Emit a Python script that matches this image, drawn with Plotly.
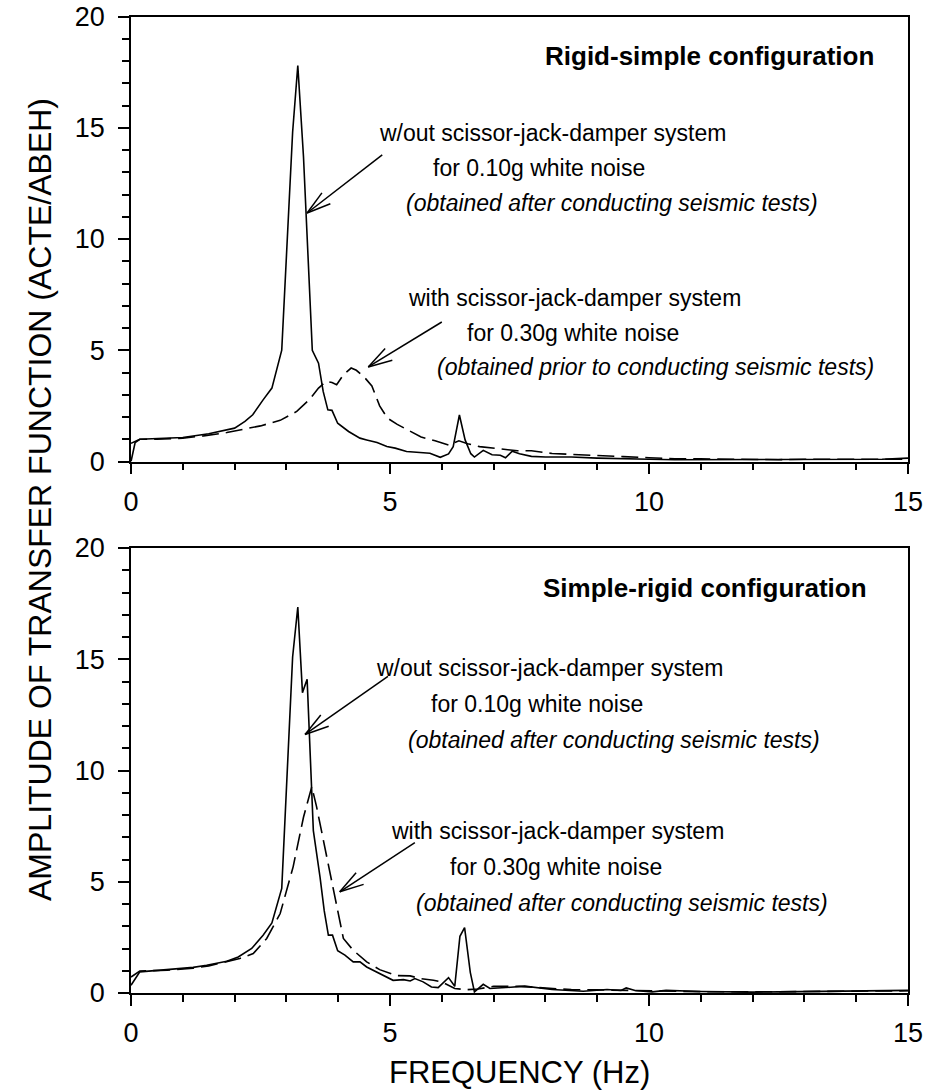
import math
import plotly.graph_objects as go

W, H = 927, 1092

# ---------------- data ----------------
# Rigid-simple configuration, without scissor-jack-damper (0.10g white noise)
rs_without_freq = [0.0, 0.08, 0.17, 0.5, 1.0, 1.5, 2.0, 2.2, 2.35, 2.55, 2.72, 2.91, 3.12, 3.22,
                   3.33, 3.5, 3.62, 3.71, 3.8, 3.88, 3.99, 4.2, 4.42, 4.55, 4.75, 4.94, 5.1, 5.32,
                   5.5, 5.77, 5.97, 6.13, 6.22, 6.34, 6.45, 6.56, 6.63, 6.8, 6.97, 7.13, 7.23,
                   7.36, 7.5, 7.73, 8.0, 8.5, 9.0, 9.5, 10.0, 10.5, 11.0, 11.5, 12.0, 12.5, 13.0,
                   13.5, 14.0, 14.5, 15.0]
rs_without_amp = [0.0, 0.85, 1.0, 1.02, 1.08, 1.25, 1.5, 1.8, 2.1, 2.77, 3.3, 5.0, 14.8, 17.8,
                  13.7, 5.0, 4.42, 3.15, 2.32, 2.3, 1.72, 1.35, 1.05, 0.97, 0.85, 0.67, 0.6, 0.45,
                  0.42, 0.37, 0.19, 0.34, 0.67, 2.09, 0.97, 0.35, 0.2, 0.5, 0.3, 0.28, 0.17,
                  0.46, 0.35, 0.23, 0.2, 0.2, 0.15, 0.14, 0.1, 0.08, 0.08, 0.1, 0.07, 0.08, 0.09,
                  0.08, 0.1, 0.1, 0.15]

# Rigid-simple configuration, with scissor-jack-damper (0.30g white noise)
rs_with_freq = [0.0, 0.17, 0.5, 1.0, 1.4, 1.85, 2.17, 2.5, 2.88, 3.2, 3.45, 3.62, 3.77, 3.88,
                3.97, 4.1, 4.25, 4.35, 4.5, 4.65, 4.8, 4.95, 5.14, 5.35, 5.6, 5.87, 6.13, 6.33,
                6.5, 6.73, 7.0, 7.46, 7.73, 8.13, 8.5, 9.06, 9.5, 10.0, 10.5, 11.0, 11.5, 12.0,
                12.5, 13.0, 13.5, 14.0, 14.5, 15.0]
rs_with_amp = [0.82, 1.0, 1.0, 1.05, 1.15, 1.3, 1.45, 1.6, 1.85, 2.25, 2.8, 3.3, 3.6, 3.55,
               3.45, 3.9, 4.2, 4.1, 3.8, 3.4, 2.5, 1.95, 1.67, 1.4, 1.1, 0.93, 0.74, 0.93,
               0.8, 0.67, 0.6, 0.48, 0.48, 0.36, 0.32, 0.28, 0.22, 0.17, 0.12, 0.12, 0.1, 0.1,
               0.08, 0.1, 0.1, 0.1, 0.08, 0.1]

# Simple-rigid configuration, without scissor-jack-damper (0.10g white noise)
sr_without_freq = [0.0, 0.17, 0.69, 1.2, 1.46, 1.85, 2.07, 2.33, 2.55, 2.72, 2.91, 3.12, 3.22,
                   3.31, 3.4, 3.52, 3.65, 3.73, 3.81, 3.89, 3.99, 4.13, 4.29, 4.42, 4.55, 4.87,
                   5.06, 5.26, 5.39, 5.48, 5.64, 5.8, 5.93, 6.13, 6.25, 6.35, 6.44, 6.55, 6.63,
                   6.8, 6.93, 7.33, 7.6, 8.13, 8.73, 9.19, 9.46, 9.56, 9.73, 10.06, 10.33, 11.0,
                   11.5, 12.0, 12.5, 13.0, 13.5, 14.0, 14.5, 15.0]
sr_without_amp = [0.35, 0.95, 1.05, 1.15, 1.25, 1.43, 1.62, 2.0, 2.6, 3.15, 4.7, 15.1, 17.35,
                  13.5, 14.1, 7.3, 5.2, 3.7, 2.6, 2.6, 1.9, 1.7, 1.4, 1.4, 1.17, 0.8,
                  0.57, 0.6, 0.54, 0.65, 0.5, 0.27, 0.24, 0.69, 0.3, 2.55, 2.94, 0.93, 0.05,
                  0.39, 0.2, 0.26, 0.31, 0.16, 0.08, 0.16, 0.11, 0.23, 0.11, 0.05, 0.12, 0.07,
                  0.05, 0.04, 0.05, 0.06, 0.07, 0.08, 0.08, 0.12]

# Simple-rigid configuration, with scissor-jack-damper (0.30g white noise)
sr_with_freq = [0.0, 0.17, 0.7, 1.2, 1.5, 1.85, 2.1, 2.36, 2.62, 2.88, 3.13, 3.33, 3.49, 3.58,
                3.78, 3.97, 4.1, 4.29, 4.55, 4.8, 5.13, 5.39, 5.58, 5.84, 6.0, 6.25, 6.48, 6.7,
                7.0, 7.5, 8.0, 8.5, 9.0, 9.5, 10.0, 10.5, 11.0, 12.0, 13.0, 14.0, 15.0]
sr_with_amp = [0.72, 0.99, 1.02, 1.12, 1.22, 1.4, 1.55, 1.77, 2.45, 3.57, 5.67, 7.9, 9.27, 8.4,
               6.1, 3.87, 2.45, 1.92, 1.4, 1.05, 0.78, 0.77, 0.65, 0.57, 0.5, 0.2, 0.15, 0.18,
               0.3, 0.3, 0.22, 0.15, 0.14, 0.12, 0.07, 0.08, 0.06, 0.05, 0.06, 0.07, 0.1]

panel_titles = ["Rigid-simple configuration", "Simple-rigid configuration"]
without_lines = ["w/out scissor-jack-damper system", "for 0.10g white noise"]
with_lines = ["with scissor-jack-damper system", "for 0.30g white noise"]
without_notes = ["(obtained after conducting seismic tests)", "(obtained after conducting seismic tests)"]
with_notes = ["(obtained prior to conducting seismic tests)", "(obtained after conducting seismic tests)"]

x_title = "FREQUENCY (Hz)"
y_title = "AMPLITUDE OF TRANSFER FUNCTION (ACTE/ABEH)"

X_RANGE = [0, 15]
Y_RANGE = [0, 20]

# ---------------- layout geometry ----------------
X_DOMAIN = [131 / W, 908 / W]
Y_DOMAINS = [[(H - 461.5) / H, (H - 16.5) / H],   # upper panel
             [(H - 993) / H, (H - 548) / H]]      # lower panel

PX_PER_X = (X_DOMAIN[1] - X_DOMAIN[0]) * W / (X_RANGE[1] - X_RANGE[0])
PX_PER_Y = [(d[1] - d[0]) * H / (Y_RANGE[1] - Y_RANGE[0]) for d in Y_DOMAINS]

SANS = "Arial, Liberation Sans, sans-serif"
TICK_FONT = dict(family=SANS, size=27, color="black")

solid = dict(color="black", width=1.6)
dashed = dict(color="black", width=1.6, dash="17px,7px")

fig = go.Figure()

series = [
    (rs_without_freq, rs_without_amp, solid, "x", "y"),
    (rs_with_freq, rs_with_amp, dashed, "x", "y"),
    (sr_without_freq, sr_without_amp, solid, "x2", "y2"),
    (sr_with_freq, sr_with_amp, dashed, "x2", "y2"),
]
for fx, fy, style, xa, ya in series:
    fig.add_trace(go.Scatter(x=fx, y=fy, mode="lines", line=style, xaxis=xa, yaxis=ya,
                             showlegend=False, hoverinfo="skip"))

axis_common = dict(
    showline=True, linecolor="black", linewidth=1.6, mirror=True,
    ticks="outside", ticklen=11, tickwidth=1.5, tickcolor="black",
    showgrid=False, zeroline=False, tickfont=TICK_FONT, automargin=False,
)

xaxis = dict(axis_common, range=X_RANGE, domain=X_DOMAIN, tick0=0, dtick=5,
             minor=dict(dtick=1, ticks="outside", ticklen=7, tickwidth=1.5, tickcolor="black"),
             ticklabelstandoff=4)
yaxis = dict(axis_common, range=Y_RANGE, tick0=0, dtick=5,
             minor=dict(dtick=1, ticks="outside", ticklen=7, tickwidth=1.5, tickcolor="black"),
             ticklabelstandoff=8)

fig.update_layout(
    width=W, height=H,
    margin=dict(l=0, r=0, t=0, b=0, pad=0),
    paper_bgcolor="white", plot_bgcolor="white",
    xaxis=dict(xaxis, anchor="y"),
    yaxis=dict(yaxis, domain=Y_DOMAINS[0], anchor="x"),
    xaxis2=dict(xaxis, anchor="y2"),
    yaxis2=dict(yaxis, domain=Y_DOMAINS[1], anchor="x2"),
)

# ---------------- text labels ----------------
panel_refs = [("x", "y"), ("x2", "y2")]

label_pos = {
    0: dict(title=(14.38, 18.22),
            without=[(8.13, 14.76), (7.87, 13.2), (9.29, 11.6)],
            with_=[(8.56, 7.34), (8.54, 5.78), (10.12, 4.25)]),
    1: dict(title=(14.25, 18.2),
            without=[(8.07, 14.6), (7.83, 12.97), (9.32, 11.35)],
            with_=[(8.23, 7.3), (8.21, 5.68), (9.48, 4.05)]),
}

NOTE_SIZE = 23
TITLE_SIZE = 26

for p in range(2):
    xr, yr = panel_refs[p]
    pos = label_pos[p]
    fig.add_annotation(x=pos["title"][0], y=pos["title"][1], xref=xr, yref=yr,
                       text="<b>" + panel_titles[p] + "</b>", showarrow=False,
                       xanchor="right", yanchor="middle",
                       font=dict(family=SANS, size=TITLE_SIZE, color="black"))
    texts_without = [without_lines[0], without_lines[1], "<i>" + without_notes[p] + "</i>"]
    texts_with = [with_lines[0], with_lines[1], "<i>" + with_notes[p] + "</i>"]
    for txt, (tx, ty) in zip(texts_without + texts_with, pos["without"] + pos["with_"]):
        fig.add_annotation(x=tx, y=ty, xref=xr, yref=yr, text=txt, showarrow=False,
                           xanchor="center", yanchor="middle",
                           font=dict(family=SANS, size=NOTE_SIZE, color="black"))

# ---------------- arrows (open V heads) ----------------
# (panel, tail x, tail y, tip x, tip y)
arrows = [
    (0, 4.85, 13.78, 3.40, 11.17),
    (0, 6.00, 6.27, 4.58, 4.25),
    (1, 4.96, 14.23, 3.36, 11.62),
    (1, 5.48, 6.76, 4.03, 4.55),
]
HEAD_LEN = 25.0
HEAD_HALF_ANGLE = math.radians(16)

for p, tx0, ty0, tx1, ty1 in arrows:
    xr, yr = panel_refs[p]
    line = dict(color="black", width=1.5)
    fig.add_shape(type="line", xref=xr, yref=yr, x0=tx0, y0=ty0, x1=tx1, y1=ty1, line=line)
    # direction from the tip back towards the tail, in screen pixels (y up)
    dx = (tx0 - tx1) * PX_PER_X
    dy = (ty0 - ty1) * PX_PER_Y[p]
    ang = math.atan2(dy, dx)
    for s in (-1, 1):
        a = ang + s * HEAD_HALF_ANGLE
        ex = tx1 + HEAD_LEN * math.cos(a) / PX_PER_X
        ey = ty1 + HEAD_LEN * math.sin(a) / PX_PER_Y[p]
        fig.add_shape(type="line", xref=xr, yref=yr, x0=tx1, y0=ty1, x1=ex, y1=ey, line=line)

# ---------------- axis titles ----------------
fig.add_annotation(x=40 / W, y=(H - 500) / H, xref="paper", yref="paper", text=y_title,
                   textangle=-90, showarrow=False, xanchor="center", yanchor="middle",
                   font=dict(family=SANS, size=32, color="black"))
fig.add_annotation(x=519 / W, y=0, xref="paper", yref="paper", text=x_title,
                   showarrow=False, xanchor="center", yanchor="bottom", yshift=0,
                   font=dict(family=SANS, size=31, color="black"))

fig.write_html("out.html")
